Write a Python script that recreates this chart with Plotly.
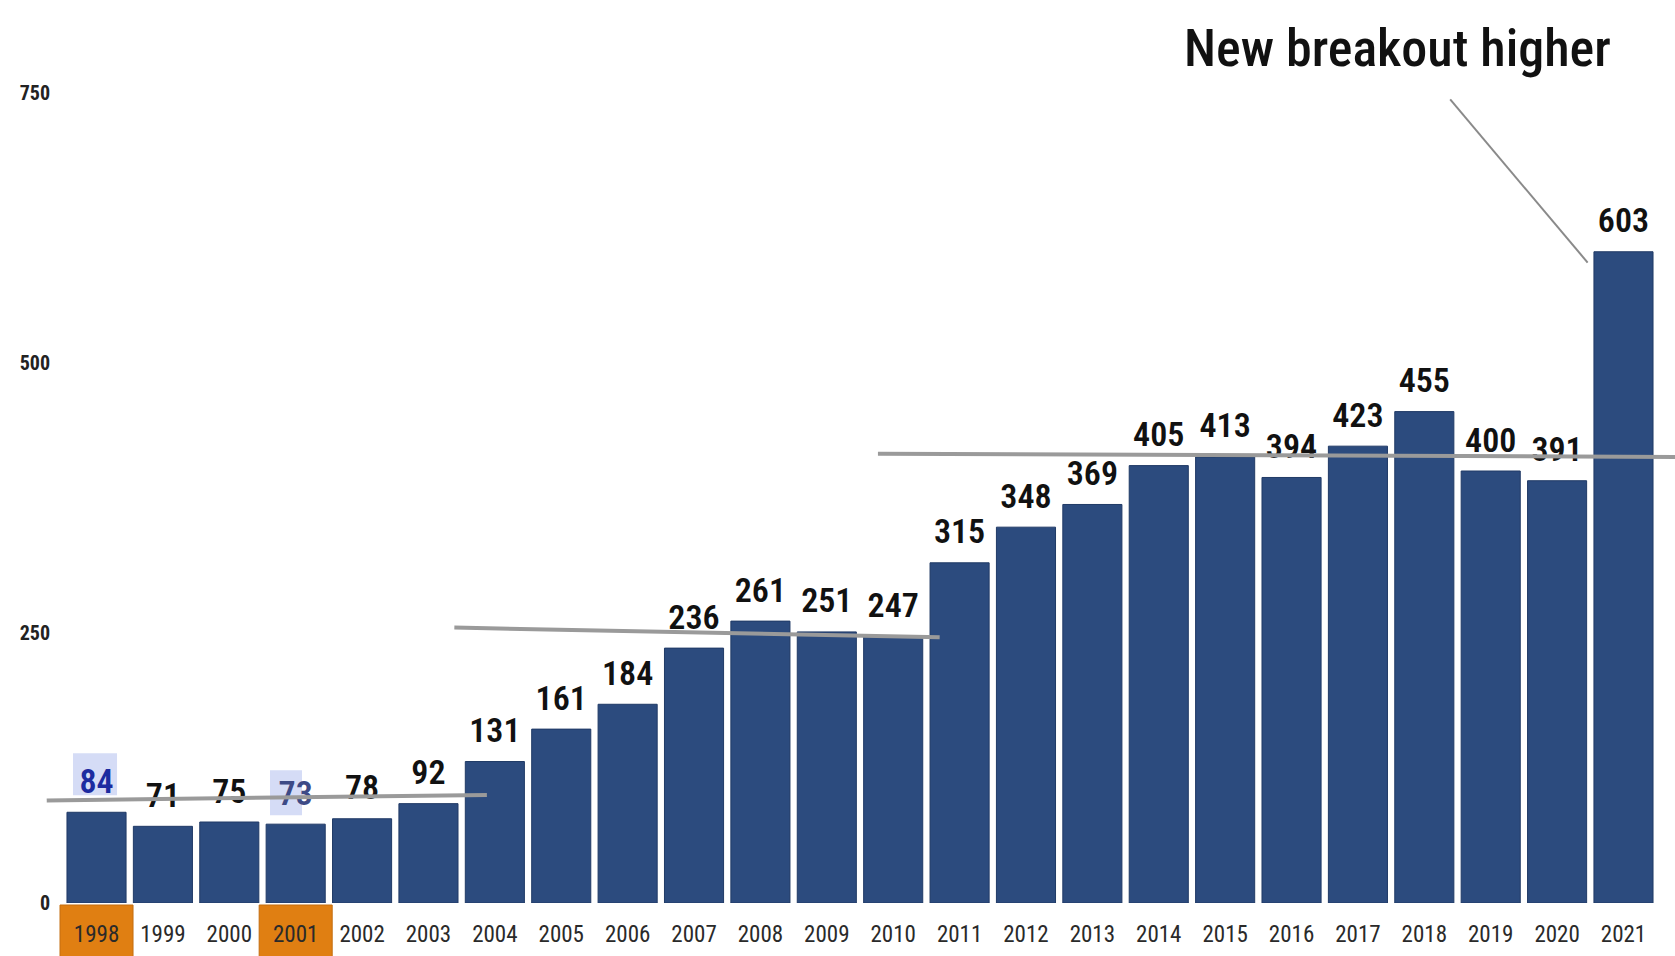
import plotly.graph_objects as go

# Annual values per year
years = list(range(1998, 2022))
values = [84, 71, 75, 73, 78, 92, 131, 161, 184, 236, 261, 251, 247,
          315, 348, 369, 405, 413, 394, 423, 455, 400, 391, 603]
y_ticks = [0, 250, 500, 750]

# Years whose axis labels sit on an orange tab
flagged_years = [1998, 2001]
# Value labels shown with a pale highlight box
boxed_years = [1998, 2001]

# Range levels drawn across the bars: (from year, to year, level at start, level at end)
range_levels = [
    (1997.25, 2003.88, 95, 100),
    (2003.39, 2010.70, 255, 246),
    (2009.77, 2021.78, 416, 413),
]

headline = "New breakout higher"

BAR = "#2c4b7e"
COND = "Roboto Condensed, Open Sans Condensed, DejaVu Sans Condensed, sans-serif"

W, H = 1675, 956
M_L, M_R, M_T, M_B = 45, 0, 20, 53
plot_h = H - M_T - M_B
px_per_unit = 1.08
y_max = plot_h / px_per_unit
x_range = [1997.224, 2021.776]

label_colors = []
for yr in years:
    if yr == 1998:
        label_colors.append("#1c2ba0")
    elif yr == 2001:
        label_colors.append("#3d4a86")
    else:
        label_colors.append("#111111")

fig = go.Figure()

fig.add_trace(go.Bar(
    x=years, y=values,
    marker=dict(color=BAR, line=dict(color="#203a66", width=1)),
    width=0.89,
    hoverinfo="x+y",
    showlegend=False,
))

# Value labels above each bar (transparent markers set the gap above the bar)
fig.add_trace(go.Scatter(
    x=years, y=values,
    mode="markers+text",
    text=[str(v) for v in values],
    textposition="top center",
    textfont=dict(family=COND, size=34, color=label_colors, weight=600),
    marker=dict(size=16, color="rgba(0,0,0,0)"),
    hoverinfo="skip",
    showlegend=False,
    cliponaxis=False,
))

shapes = []

# Pale boxes behind highlighted value labels
for yr in boxed_years:
    v = values[years.index(yr)]
    if yr == 1998:
        x0, x1, d0, d1 = yr - 0.354, yr + 0.309, 17, 59
    else:
        x0, x1, d0, d1 = yr - 0.387, yr + 0.095, 9, 54
    shapes.append(dict(
        type="rect", xref="x", yref="y", layer="below",
        x0=x0, x1=x1,
        y0=v + d0 / px_per_unit, y1=v + d1 / px_per_unit,
        fillcolor="#d5dcf6", line=dict(width=0),
    ))

# Orange tabs behind flagged year labels
for yr in flagged_years:
    shapes.append(dict(
        type="rect", xref="x", yref="paper", layer="below",
        x0=yr - 0.55, x1=yr + 0.55,
        y0=-2 / plot_h, y1=-(M_B + 2) / plot_h,
        fillcolor="#e07f12", line=dict(color="#c46e10", width=1),
    ))

# Range levels
for x0, x1, y0, y1 in range_levels:
    shapes.append(dict(
        type="line", xref="x", yref="y", layer="above",
        x0=x0, x1=x1, y0=y0, y1=y1,
        line=dict(color="#9a9a9a", width=4),
    ))

# Pointer from the headline to the latest bar
shapes.append(dict(
    type="line", xref="x", yref="y", layer="above",
    x0=2018.39, y0=744, x1=2020.46, y1=593,
    line=dict(color="#8a8a8a", width=2),
))

fig.update_layout(
    width=W, height=H,
    margin=dict(l=M_L, r=M_R, t=M_T, b=M_B),
    paper_bgcolor="white",
    plot_bgcolor="white",
    bargap=0.11,
    shapes=shapes,
    annotations=[dict(
        text=headline, xref="x", yref="paper",
        x=2017.59, y=0.968, xanchor="center", yanchor="middle",
        showarrow=False,
        font=dict(family=COND, size=52, color="#111111", weight=500),
    )],
    xaxis=dict(
        range=x_range,
        tickmode="array", tickvals=years, ticktext=[str(y) for y in years],
        tickfont=dict(family=COND, size=23, color="#2a2a2a"),
        showgrid=False, zeroline=False, showline=False, ticks="",
        ticklabelstandoff=15,
    ),
    yaxis=dict(
        range=[0, y_max],
        tickmode="array", tickvals=y_ticks, ticktext=[str(t) for t in y_ticks],
        tickfont=dict(family=COND, size=20, color="#222222", weight="bold"),
        showgrid=False, zeroline=False, showline=False, ticks="",
        ticklabelstandoff=-6,
    ),
)

fig.write_html("out.html")
